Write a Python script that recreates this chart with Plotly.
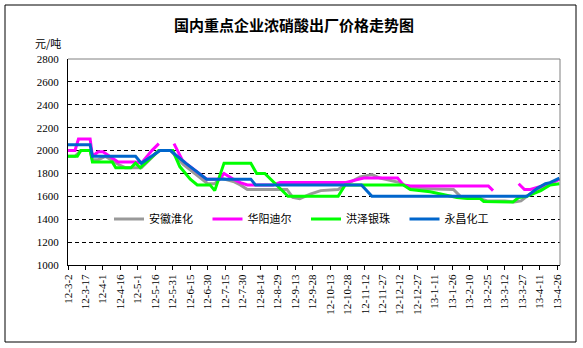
import plotly.graph_objects as go

TITLE = "国内重点企业浓硝酸出厂价格走势图"
UNIT = "元/吨"

GRAY_NAME = "安徽淮化"
GRAY_DATES = ["2012-03-02", "2012-03-08", "2012-03-13", "2012-03-21", "2012-03-23", "2012-03-28",
              "2012-04-03", "2012-04-14", "2012-04-20", "2012-05-04", "2012-05-19", "2012-05-29",
              "2012-06-09", "2012-06-30", "2012-07-06", "2012-07-11", "2012-07-22", "2012-07-28",
              "2012-08-03", "2012-09-06", "2012-09-11", "2012-09-17", "2012-09-26", "2012-10-05",
              "2012-10-20", "2012-10-26", "2012-11-08", "2012-11-18", "2012-11-25", "2012-12-12",
              "2012-12-21", "2013-01-27", "2013-02-03", "2013-02-19", "2013-02-25", "2013-03-12",
              "2013-03-20", "2013-03-26", "2013-03-31", "2013-04-09", "2013-04-16", "2013-04-28"]
GRAY_VALUES = [1950, 1950, 2000, 2000, 1920, 1920,
               1950, 1880, 1850, 1850, 2000, 2000,
               1880, 1710, 1710, 1760, 1730, 1700,
               1660, 1660, 1590, 1580, 1620, 1650,
               1660, 1700, 1770, 1790, 1760, 1720,
               1670, 1660, 1590, 1580, 1560, 1560,
               1550, 1560, 1600, 1660, 1700, 1750]

MAG_NAME = "华阳迪尔"
MAG_DATES = ["2012-03-02", "2012-03-08", "2012-03-11", "2012-03-21", "2012-03-23", "2012-03-28",
             "2012-04-01", "2012-04-14", "2012-04-29", "2012-05-04", "2012-05-13", "2012-05-19",
             "2012-05-25", "2012-06-01", "2012-06-08", "2012-06-11", "2012-06-29", "2012-07-10",
             "2012-07-14", "2012-07-22", "2012-07-28", "2012-08-03", "2012-08-25", "2012-08-31",
             "2012-10-26", "2012-11-11", "2012-12-10", "2012-12-15", "2012-12-21", "2013-02-26",
             "2013-03-02", "2013-03-13", "2013-03-24", "2013-03-29", "2013-04-03", "2013-04-12",
             "2013-04-20", "2013-04-28"]
MAG_VALUES = [2000, 2000, 2100, 2100, 1950, 1990,
              1990, 1900, 1900, 1890, 2000, 2060,
              None, 2060, 1920, 1890, 1750, 1750,
              1800, 1750, 1720, 1700, 1700, 1720,
              1720, 1760, 1760, 1700, 1690, 1690,
              1650, None, 1710, 1660, 1660, 1690,
              1710, 1750]

GREEN_NAME = "洪泽银珠"
GREEN_DATES = ["2012-03-02", "2012-03-10", "2012-03-13", "2012-03-21", "2012-03-23", "2012-04-09",
               "2012-04-12", "2012-04-25", "2012-04-29", "2012-05-03", "2012-05-19", "2012-05-31",
               "2012-06-06", "2012-06-15", "2012-06-21", "2012-07-02", "2012-07-06", "2012-07-14",
               "2012-08-06", "2012-08-11", "2012-08-18", "2012-09-07", "2012-10-20", "2012-10-26",
               "2012-12-15", "2012-12-21", "2013-01-07", "2013-01-30", "2013-02-08", "2013-02-19",
               "2013-02-22", "2013-03-19", "2013-03-24", "2013-03-31", "2013-04-12", "2013-04-20",
               "2013-04-28"]
GREEN_VALUES = [1950, 1950, 2000, 2000, 1900, 1900,
                1850, 1850, 1890, 1850, 2000, 2000,
                1860, 1750, 1700, 1700, 1650, 1890,
                1890, 1800, 1800, 1600, 1600, 1700,
                1700, 1660, 1640, 1590, 1580, 1580,
                1555, 1550, 1590, 1600, 1650, 1700,
                1710]

BLUE_NAME = "永昌化工"
BLUE_DATES = ["2012-03-02", "2012-03-21", "2012-03-23", "2012-04-29", "2012-05-04", "2012-05-20",
              "2012-05-29", "2012-06-11", "2012-06-29", "2012-08-06", "2012-08-10", "2012-11-09",
              "2012-11-18", "2013-03-31", "2013-04-09", "2013-04-16", "2013-04-20", "2013-04-28"]
BLUE_VALUES = [2050, 2050, 1950, 1950, 1890, 2000,
               2000, 1890, 1750, 1750, 1700, 1700,
               1600, 1600, 1670, 1710, 1720, 1760]

TICK_DATES = ["2012-03-02", "2012-03-17", "2012-04-01", "2012-04-16", "2012-05-01", "2012-05-16",
              "2012-05-31", "2012-06-15", "2012-06-30", "2012-07-15", "2012-07-30", "2012-08-14",
              "2012-08-29", "2012-09-13", "2012-09-28", "2012-10-13", "2012-10-28", "2012-11-12",
              "2012-11-27", "2012-12-12", "2012-12-27", "2013-01-11", "2013-01-26", "2013-02-10",
              "2013-02-25", "2013-03-12", "2013-03-27", "2013-04-11", "2013-04-26"]
TICK_LABELS = ["12-3-2", "12-3-17", "12-4-1", "12-4-16", "12-5-1", "12-5-16",
               "12-5-31", "12-6-15", "12-6-30", "12-7-15", "12-7-30", "12-8-14",
               "12-8-29", "12-9-13", "12-9-28", "12-10-13", "12-10-28", "12-11-12",
               "12-11-27", "12-12-12", "12-12-27", "13-1-11", "13-1-26", "13-2-10",
               "13-2-25", "13-3-12", "13-3-27", "13-4-11", "13-4-26"]
Y_TICKS = [1000, 1200, 1400, 1600, 1800, 2000, 2200, 2400, 2600, 2800]

W, H = 583, 348
L, R, T, B = 68, 23, 59, 83
PW, PH = W - L - R, H - T - B

def px(x):
    return (x - L) / PW

def py(y):
    return (H - B - y) / PH

CJK = "Noto Sans CJK SC"
SERIF = "Liberation Serif"

fig = go.Figure()
series = [
    (GRAY_NAME, GRAY_DATES, GRAY_VALUES, "#999999"),
    (MAG_NAME, MAG_DATES, MAG_VALUES, "#FF00FF"),
    (GREEN_NAME, GREEN_DATES, GREEN_VALUES, "#00FF00"),
    (BLUE_NAME, BLUE_DATES, BLUE_VALUES, "#0066CC"),
]
for name, xs, ys, col in series:
    fig.add_trace(go.Scatter(x=xs, y=ys, name=name, mode="lines",
                             line=dict(color=col, width=3), connectgaps=False))

fig.update_layout(
    width=W, height=H,
    margin=dict(l=L, r=R, t=T, b=B),
    paper_bgcolor="white", plot_bgcolor="white",
    title=dict(text=TITLE, x=294 / W, xref="container", xanchor="center",
               y=1 - 26 / H, yref="container", yanchor="middle",
               font=dict(family=CJK, size=15, color="black", weight="bold")),
    showlegend=True,
    legend=dict(orientation="h", x=px(109), xanchor="left", y=py(219), yanchor="middle",
                bgcolor="white", borderwidth=0, font=dict(family=CJK, size=11, color="black"),
                entrywidth=53.5, entrywidthmode="pixels", itemwidth=30, tracegroupgap=0),
    xaxis=dict(type="date", range=["2012-03-02", "2013-04-28 12:00"],
               tickmode="array", tickvals=TICK_DATES, ticktext=TICK_LABELS,
               tickangle=-90, ticks="outside", ticklen=4, tickcolor="black",
               showgrid=False, showline=True, linecolor="black", linewidth=1,
               tickfont=dict(family=SERIF, size=11, color="black"), zeroline=False),
    yaxis=dict(range=[1000, 2800], tickmode="array", tickvals=Y_TICKS,
               ticktext=[str(v) for v in Y_TICKS], ticks="", showgrid=True,
               gridcolor="black", gridwidth=1, griddash="4px,3px",
               showline=True, linecolor="black", linewidth=1, zeroline=False,
               ticklabelstandoff=6,
               tickfont=dict(family=SERIF, size=11, color="black")),
    annotations=[dict(text=UNIT, xref="paper", yref="paper", x=px(33), y=py(43),
                      xanchor="left", yanchor="middle", showarrow=False,
                      font=dict(family=CJK, size=11, color="black"))],
    shapes=[
        dict(type="line", xref="paper", yref="paper", x0=0, x1=1, y0=1, y1=1,
             line=dict(color="#808080", width=1), layer="above"),
        dict(type="line", xref="paper", yref="paper", x0=1, x1=1, y0=0, y1=1,
             line=dict(color="#808080", width=1), layer="above"),
        dict(type="rect", xref="paper", yref="paper", x0=px(5), x1=px(576),
             y0=py(342), y1=py(5), line=dict(color="black", width=1), layer="above"),
    ],
)

fig.write_html("out.html")
